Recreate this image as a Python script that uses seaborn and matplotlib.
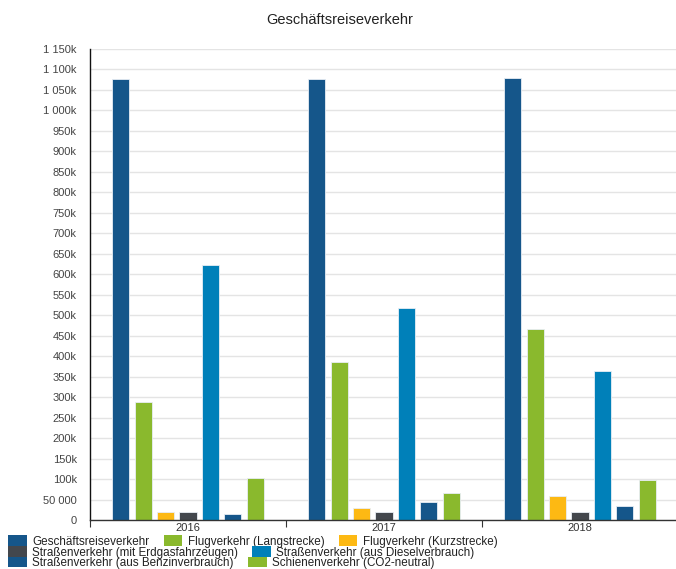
import numpy as np
import pandas as pd
import matplotlib
matplotlib.use('Agg')
import matplotlib.pyplot as plt
import seaborn as sns
from matplotlib.patches import Patch
from matplotlib.ticker import FuncFormatter

# Daten
jahre = ['2016', '2017', '2018']
serien = [
    'Geschäftsreiseverkehr',
    'Flugverkehr (Langstrecke)',
    'Flugverkehr (Kurzstrecke)',
    'Straßenverkehr (mit Erdgasfahrzeugen)',
    'Straßenverkehr (aus Dieselverbrauch)',
    'Straßenverkehr (aus Benzinverbrauch)',
    'Schienenverkehr (CO2-neutral)',
]
geschaeftsreise = [1076000, 1076000, 1078000]
flug_lang = [287000, 386000, 467000]
flug_kurz = [20000, 30000, 59000]
strasse_erdgas = [19000, 19000, 19500]
strasse_diesel = [622000, 518000, 363000]
strasse_benzin = [15000, 45000, 33000]
schiene = [103000, 65000, 98000]
farben = ['#15568a', '#8ab92d', '#fdb913', '#43474d', '#0080b9', '#15568a', '#8ab92d']

werte = [geschaeftsreise, flug_lang, flug_kurz, strasse_erdgas,
         strasse_diesel, strasse_benzin, schiene]
df = pd.DataFrame([
    {'Jahr': j, 'Serie': s, 'Wert': w[i]}
    for s, w in zip(serien, werte) for i, j in enumerate(jahre)
])
palette = dict(zip(serien, farben))

sns.set_theme(style='white')
plt.rcParams['font.family'] = ['Liberation Sans', 'DejaVu Sans']

fig = plt.figure(figsize=(6.76, 5.69), dpi=100)
ax = fig.add_axes([90 / 676, 49 / 569, 588 / 676, 471 / 569])

sns.barplot(data=df, x='Jahr', y='Wert', hue='Serie', hue_order=serien,
            order=jahre, palette=palette, saturation=1, width=0.8, gap=0.24,
            edgecolor='#e8eef5', linewidth=0.6, ax=ax, legend=False)

# Achsen
ax.set_ylim(0, 1150000)
ax.set_yticks(np.arange(0, 1150001, 50000))


def fmt(v, pos):
    if v == 0:
        return '0'
    if v < 100000:
        return f'{int(v):,}'.replace(',', ' ')
    return f'{v / 1000:,.0f}k'.replace(',', ' ')


ax.yaxis.set_major_formatter(FuncFormatter(fmt))
ax.set_xlim(-0.5, 2.5)
ax.set_xticks([-0.5, 0.5, 1.5, 2.5])
ax.set_xticklabels([])
ax.set_xticks([0, 1, 2], minor=True)
ax.set_xticklabels(jahre, minor=True)
ax.tick_params(axis='x', which='major', length=5, width=0.8, color='#333333', direction='out', bottom=True)
ax.tick_params(axis='x', which='minor', length=0, pad=2, labelsize=8, labelcolor='#333333')
ax.tick_params(axis='y', length=0, pad=9.5, labelsize=8, labelcolor='#444444')
ax.set_xlabel('')
ax.set_ylabel('')
ax.grid(axis='y', color='#e4e4e4', linewidth=1)
ax.set_axisbelow(True)
for s in ['top', 'right']:
    ax.spines[s].set_visible(False)
ax.spines['left'].set_color('#111111')
ax.spines['left'].set_linewidth(1)
ax.spines['bottom'].set_color('#333333')
ax.spines['bottom'].set_linewidth(1)

fig.text(340 / 676, 1 - 20 / 569, 'Geschäftsreiseverkehr', ha='center', va='center',
         fontsize=10.5, color='#222222')

# Legende in drei Zeilen
zeilen = [[0, 1, 2], [3, 4], [5, 6]]
ys = [541.5, 552.5, 563]
for idx, y in zip(zeilen, ys):
    handles = [Patch(facecolor=farben[i], edgecolor='none') for i in idx]
    labels = [serien[i] for i in idx]
    leg = fig.legend(handles, labels, loc='center left',
                     bbox_to_anchor=(8 / 676, 1 - y / 569), ncol=len(idx),
                     frameon=False, fontsize=8.4, handlelength=1.6, handleheight=0.95,
                     handletextpad=0.45, columnspacing=1.25, borderpad=0,
                     borderaxespad=0, labelcolor='#222222')

fig.savefig('out.png', dpi=100)
